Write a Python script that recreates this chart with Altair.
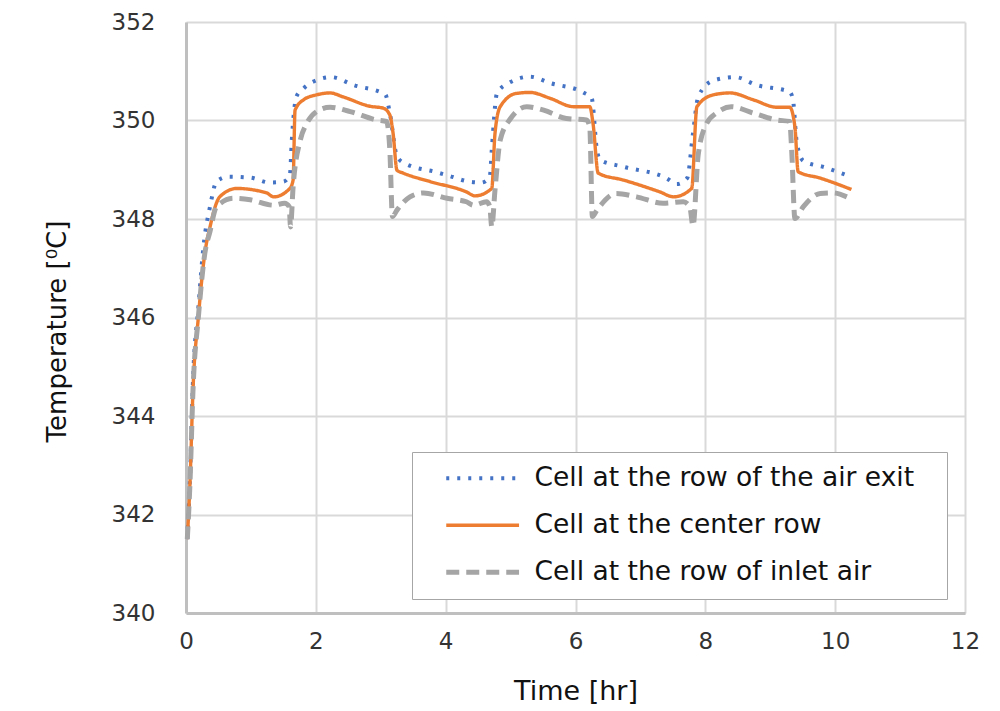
import altair as alt
import pandas as pd

# Series labels, in legend order
series_names = [
    "Cell at the row of the air exit",
    "Cell at the center row",
    "Cell at the row of inlet air",
]
series_colors = ["#4472C4", "#ED7D31", "#A5A5A5"]

# Cell at the row of the air exit
exit_time = [0.02, 0.06, 0.11, 0.19, 0.27, 0.37, 0.47, 0.65, 0.99, 1.29, 1.50, 1.60,
             1.63, 1.70, 1.81, 2.06, 2.24, 2.58, 3.07, 3.14, 3.25, 3.37, 3.86, 4.07,
             4.32, 4.55, 4.68, 4.71, 4.79, 4.97, 5.30, 5.61, 6.12, 6.25, 6.33, 6.38,
             6.74, 7.40, 7.56, 7.72, 7.81, 7.89, 8.12, 8.46, 8.79, 9.30, 9.35, 9.41,
             9.51, 9.84, 10.18]
exit_temp = [341.5, 342.7, 344.8, 346.2, 347.45, 348.25, 348.76, 348.86, 348.84, 348.74,
             348.76, 348.89, 349.60, 350.48, 350.65, 350.84, 350.88, 350.72, 350.53,
             350.15, 349.27, 349.13, 348.95, 348.87, 348.77, 348.74, 348.86, 349.40,
             350.55, 350.76, 350.89, 350.76, 350.57, 350.45, 349.40, 349.20, 349.06,
             348.83, 348.71, 348.83, 349.74, 350.48, 350.81, 350.88, 350.72, 350.58,
             350.42, 349.54, 349.18, 349.05, 348.89]

# Cell at the center row
center_time = [0.02, 0.06, 0.11, 0.19, 0.29, 0.37, 0.52, 0.78, 1.24, 1.35, 1.60, 1.65,
               1.68, 1.81, 2.01, 2.22, 2.42, 2.83, 3.04, 3.14, 3.19, 3.25, 3.35, 3.76,
               4.32, 4.45, 4.71, 4.76, 4.84, 5.09, 5.30, 5.61, 5.97, 6.22, 6.27, 6.35,
               6.74, 7.30, 7.51, 7.79, 7.87, 8.12, 8.38, 8.74, 9.10, 9.30, 9.38, 9.43,
               9.77, 10.25]
center_temp = [341.5, 342.6, 344.6, 346.0, 347.3, 347.84, 348.45, 348.62, 348.53, 348.45,
               348.62, 348.79, 350.21, 350.42, 350.52, 350.56, 350.48, 350.29, 350.25,
               350.11, 349.74, 348.99, 348.93, 348.76, 348.55, 348.47, 348.62, 349.74,
               350.28, 350.55, 350.57, 350.45, 350.28, 350.28, 349.94, 348.93, 348.79,
               348.55, 348.45, 348.62, 350.28, 350.52, 350.56, 350.42, 350.27, 350.27,
               349.87, 348.96, 348.83, 348.60]

# Cell at the row of inlet air
inlet_time = [0.02, 0.06, 0.11, 0.19, 0.29, 0.37, 0.47, 0.73, 0.99, 1.35, 1.52, 1.59,
              1.61, 1.65, 1.76, 1.86, 2.01, 2.22, 2.53, 2.94, 3.09, 3.14, 3.18, 3.25,
              3.45, 3.66, 4.02, 4.32, 4.43, 4.63, 4.68, 4.71, 4.76, 4.84, 5.00, 5.25,
              5.51, 5.86, 6.17, 6.22, 6.26, 6.33, 6.63, 6.94, 7.35, 7.66, 7.76, 7.81,
              7.89, 8.02, 8.17, 8.40, 8.74, 9.10, 9.30, 9.33, 9.38, 9.51, 9.77, 9.97,
              10.18]
inlet_temp = [341.5, 342.6, 344.6, 346.0, 347.3, 347.75, 348.25, 348.42, 348.39, 348.28,
              348.32, 348.25, 347.84, 348.65, 349.60, 349.94, 350.18, 350.27, 350.18,
              350.01, 349.98, 349.40, 348.05, 348.18, 348.45, 348.53, 348.42, 348.35,
              348.28, 348.35, 348.25, 347.84, 348.59, 349.60, 350.04, 350.28, 350.21,
              350.04, 350.01, 349.87, 348.05, 348.18, 348.52, 348.45, 348.32, 348.35,
              348.25, 347.86, 349.30, 349.94, 350.15, 350.28, 350.15, 350.01, 349.98,
              349.40, 348.01, 348.25, 348.52, 348.53, 348.45]

x_ticks = [0, 2, 4, 6, 8, 10, 12]
y_ticks = [340, 342, 344, 346, 348, 350, 352]

rows = []
for name, ts, vs in zip(series_names,
                        [exit_time, center_time, inlet_time],
                        [exit_temp, center_temp, inlet_temp]):
    for i, (t, v) in enumerate(zip(ts, vs)):
        rows.append({"series": name, "time": t, "temp": v, "idx": i})
df = pd.DataFrame(rows)

FONT = "DejaVu Sans"

# Legend swatch: a horizontal line drawn to the right of the symbol anchor,
# kept short in height so the entries stay compact.  A trailing blank
# (braille blank, which is not trimmed) leaves room before the frame's right edge.
legend = alt.Legend(
    title=None,
    orient="none",
    legendX=226,
    legendY=430,
    direction="vertical",
    symbolType="M0,0H10.4",
    symbolSize=196,
    symbolOffset=8,
    labelFont=FONT,
    labelFontSize=26.5,
    labelColor="#111111",
    labelLimit=0,
    labelOffset=75,
    labelExpr="datum.label + '\u2800'",
    rowPadding=20,
    padding=13,
    strokeColor="#A6A6A6",
    fillColor="white",
)

chart = (
    alt.Chart(df)
    .mark_line(strokeJoin="round", interpolate="monotone")
    .encode(
        x=alt.X(
            "time:Q",
            scale=alt.Scale(domain=[0, 12], nice=False, zero=False),
            axis=alt.Axis(
                values=x_ticks,
                title="Time [hr]",
                titleY=86,
                titleBaseline="alphabetic",
                labelPadding=17,
                labelFlush=False,
            ),
        ),
        y=alt.Y(
            "temp:Q",
            scale=alt.Scale(domain=[340, 352], nice=False, zero=False),
            axis=alt.Axis(
                values=y_ticks,
                title="Temperature [\u2070C]",
                titleAngle=270,
                titleX=-121,
                titleY=309,
                titleAlign="center",
                titleBaseline="alphabetic",
                labelPadding=31,
                labelFlush=False,
            ),
        ),
        color=alt.Color(
            "series:N",
            scale=alt.Scale(domain=series_names, range=series_colors),
            legend=legend,
        ),
        strokeDash=alt.StrokeDash(
            "series:N",
            scale=alt.Scale(domain=series_names, range=[[3, 8], [1, 0], [13, 7]]),
            legend=legend,
        ),
        strokeWidth=alt.StrokeWidth(
            "series:N",
            scale=alt.Scale(type="ordinal", domain=series_names, range=[4, 3.4, 5]),
            legend=legend,
        ),
        order="idx:Q",
    )
    .properties(
        width=779,
        height=591,
        autosize=alt.AutoSizeParams(type="none"),
        padding={"left": 186, "top": 22, "right": 35, "bottom": 98},
    )
    .configure_view(stroke=None)
    .configure_axis(
        grid=True,
        gridColor="#D9D9D9",
        gridWidth=2,
        domainColor="#BFBFBF",
        domainWidth=3,
        ticks=False,
        labelFont=FONT,
        labelFontSize=23,
        labelColor="#333333",
        titleFont=FONT,
        titleFontSize=27,
        titleFontWeight="normal",
        titleColor="#111111",
    )
    .configure_axisY(titleFontSize=26)
)

chart.save("out.html", embed_options={"renderer": "svg", "actions": False})
